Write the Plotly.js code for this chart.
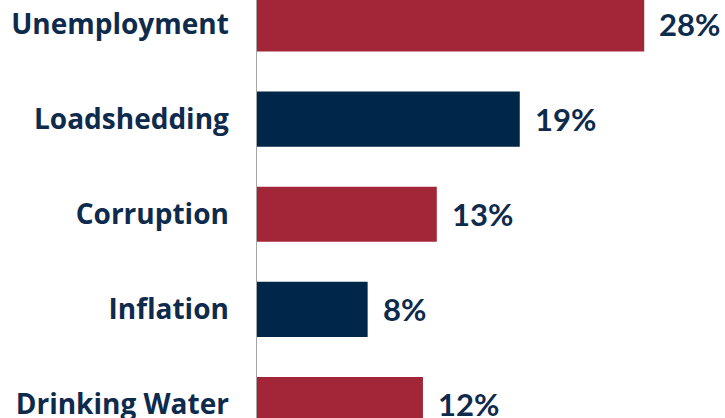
<!DOCTYPE html>
<html>
<head>
<meta charset="utf-8">
<script src="https://cdn.plot.ly/plotly-3.0.1.min.js"></script>
<style>html,body{margin:0;padding:0;background:#fff;}#chart{width:725px;height:418px;}</style>
</head>
<body>
<div id="chart"></div>
<script>
const categories = ["Unemployment", "Loadshedding", "Corruption", "Inflation", "Drinking Water"];
const values = [28, 19, 13, 8, 12];
const valueLabels = ["28%", "19%", "13%", "8%", "12%"];
const barColors = ["#A32638", "#00264A", "#A32638", "#00264A", "#A32638"];

const textColor = "#0E2A4C";

const trace = {
  type: "bar",
  orientation: "h",
  y: categories,
  x: values,
  marker: {color: barColors},
  hoverinfo: "none"
};

const annotations = categories.map((c, i) => ({
  x: values[i], y: c, xref: "x", yref: "y",
  text: valueLabels[i], showarrow: false,
  xanchor: "left", yanchor: "middle", xshift: 13,
  font: {family: "Lato", size: 31, color: textColor, weight: "bold"}
}));

const layout = {
  width: 725, height: 418,
  margin: {l: 257, r: 0, t: 0, b: 0, pad: 0},
  paper_bgcolor: "#ffffff",
  plot_bgcolor: "#ffffff",
  showlegend: false,
  bargap: 0.42,
  xaxis: {range: [0, 33.84], showgrid: false, zeroline: false, showticklabels: false, showline: false, fixedrange: true},
  yaxis: {
    type: "category",
    categoryorder: "array", categoryarray: categories,
    range: [4.142, -0.2526],
    showgrid: false, zeroline: false,
    showline: true, linecolor: "#A6A6A6", linewidth: 1.5,
    ticks: "", ticklabelstandoff: 21,
    automargin: false,
    tickfont: {family: "Open Sans", size: 28, color: textColor, weight: "bold"}
  },
  annotations: annotations
};

Plotly.newPlot("chart", [trace], layout, {displayModeBar: false, staticPlot: true});
</script>
</body>
</html>
